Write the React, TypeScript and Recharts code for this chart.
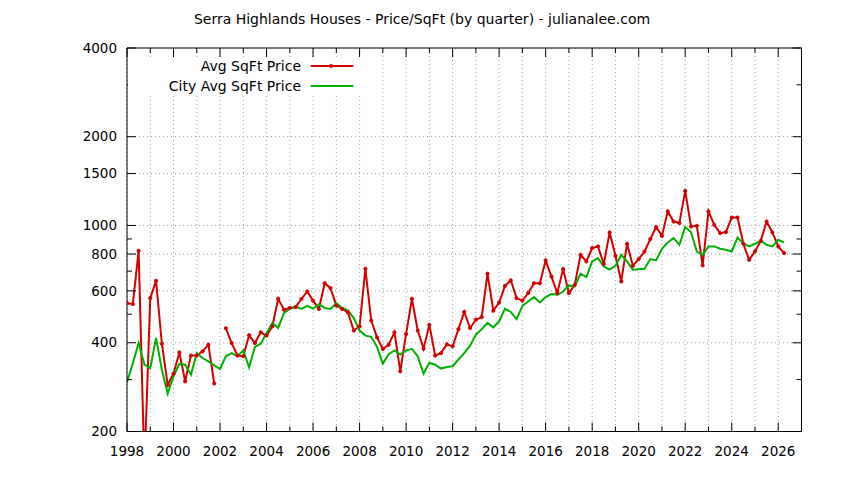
import { CartesianGrid, Legend, Line, LineChart, XAxis, YAxis } from "recharts";

const firstYear = 1998;

// quarterly values, 1998 Q1 .. 2026 Q2
const avgSqftPrice = [
  545, 541, 820, 150,
  567, 649, 397, 288,
  314, 371, 296, 362,
  362, 374, 394, 291,
  null, 448, 399, 362,
  360, 424, 399, 434,
  423, 455, 564, 518,
  525, 529, 563, 597,
  556, 521, 637, 613,
  535, 521, 507, 440,
  455, 713, 476, 417,
  381, 394, 434, 320,
  428, 564, 440, 382,
  460, 362, 369, 395,
  389, 445, 509, 449,
  479, 489, 686, 514,
  548, 624, 651, 567,
  556, 590, 637, 637,
  761, 671, 590, 711,
  590, 629, 795, 755,
  838, 849, 740, 947,
  789, 646, 867, 730,
  769, 816, 899, 988,
  922, 1116, 1031, 1019,
  1310, 992, 997, 732,
  1116, 1005, 942, 950,
  1064, 1064, 867, 765,
  816, 887, 1031, 947,
  849, 806,
];

const citySqftPrice = [
  294, 340, 399, 337,
  328, 415, 324, 269,
  308, 339, 337, 312,
  369, 355, 346, 335,
  326, 360, 369, 360,
  377, 330, 387, 397,
  432, 467, 449, 505,
  521, 531, 521, 534,
  522, 541, 525, 521,
  545, 525, 515, 485,
  440, 423, 419, 387,
  340, 366, 377, 365,
  377, 381, 360, 314,
  342, 337, 327, 331,
  333, 351, 369, 391,
  426, 445, 467, 451,
  473, 522, 509, 481,
  534, 552, 572, 548,
  572, 585, 582, 597,
  626, 621, 686, 668,
  755, 775, 726, 708,
  730, 795, 755, 708,
  711, 713, 769, 761,
  834, 876, 906, 860,
  988, 950, 816, 795,
  849, 849, 834, 827,
  816, 910, 867, 849,
  867, 887, 860, 849,
  894, 876,
];

const yearTicks = [
  1998, 1999, 2000, 2001, 2002, 2003, 2004, 2005, 2006, 2007, 2008, 2009, 2010, 2011, 2012,
  2013, 2014, 2015, 2016, 2017, 2018, 2019, 2020, 2021, 2022, 2023, 2024, 2025, 2026, 2027,
];
const labelledYears = [1998, 2000, 2002, 2004, 2006, 2008, 2010, 2012, 2014, 2016, 2018, 2020, 2022, 2024, 2026];
const priceTicks = [200, 300, 400, 500, 600, 700, 800, 900, 1000, 1500, 2000, 3000, 4000];
const labelledPrices = [200, 400, 600, 800, 1000, 1500, 2000, 4000];

const RED = "#d40000";
const GREEN = "#00b000";
const FONT = "'DejaVu Sans', sans-serif";

const data = avgSqftPrice.map((avg, i) => ({
  t: firstYear + i / 4,
  avg,
  city: citySqftPrice[i],
}));

function BottomTick({ x, y, payload }: any) {
  const major = labelledYears.includes(payload.value);
  return (
    <g>
      <line x1={x} x2={x} y1={y} y2={y - (major ? 9 : 5)} stroke="#000" />
      {major && (
        <text x={x} y={y + 20} dy="0.35em" textAnchor="middle" fontSize={13.5} fontFamily={FONT} fill="#000">
          {payload.value}
        </text>
      )}
    </g>
  );
}

function TopTick({ x, y, payload }: any) {
  const major = labelledYears.includes(payload.value);
  return <line x1={x} x2={x} y1={y} y2={y + (major ? 9 : 5)} stroke="#000" />;
}

function LeftTick({ x, y, payload }: any) {
  const major = labelledPrices.includes(payload.value);
  return (
    <g>
      <line x1={x} x2={x + (major ? 9 : 5)} y1={y} y2={y} stroke="#000" />
      {major && (
        <text x={x - 10} y={y} dy="0.35em" textAnchor="end" fontSize={13.5} fontFamily={FONT} fill="#000">
          {payload.value}
        </text>
      )}
    </g>
  );
}

function RightTick({ x, y, payload }: any) {
  const major = labelledPrices.includes(payload.value);
  return <line x1={x} x2={x - (major ? 9 : 5)} y1={y} y2={y} stroke="#000" />;
}

const legendRows = [
  { label: "Avg SqFt Price", color: RED, marker: true, cy: 66 },
  { label: "City Avg SqFt Price", color: GREEN, marker: false, cy: 86 },
];

function KeyBox() {
  return (
    <div style={{ position: "relative", width: 0, height: 0, fontFamily: FONT, fontSize: 14 }}>
      <div style={{ position: "absolute", left: 128, top: 57, width: 242, height: 38, background: "#fff" }} />
      {legendRows.map((row) => (
        <div key={row.label}>
          <div
            style={{
              position: "absolute",
              left: 61,
              top: row.cy - 10,
              width: 240,
              height: 20,
              lineHeight: "20px",
              textAlign: "right",
              whiteSpace: "nowrap",
              color: "#000",
            }}
          >
            {row.label}
          </div>
          <svg style={{ position: "absolute", left: 310, top: row.cy - 5 }} width={44} height={10}>
            <line x1={0.7} x2={43.3} y1={5} y2={5} stroke={row.color} strokeWidth={2} />
            {row.marker && <circle cx={21} cy={5} r={2} fill={row.color} />}
          </svg>
        </div>
      ))}
    </div>
  );
}

export default function App() {
  return (
    <div style={{ position: "absolute", left: 0, top: 0, width: 844, height: 480, background: "#fff" }}>
      <div
        style={{
          position: "absolute",
          left: 0,
          top: 10,
          width: 844,
          lineHeight: "18px",
          textAlign: "center",
          fontFamily: FONT,
          fontSize: 14,
          color: "#000",
          zIndex: 2,
        }}
      >
        Serra Highlands Houses - Price/SqFt (by quarter) - julianalee.com
      </div>
      <LineChart width={844} height={480} data={data} margin={{ top: 47, right: 41.5, bottom: 0, left: 0 }}>
        <CartesianGrid
          xAxisId="bottom"
          yAxisId="left"
          stroke="#a0a0a0"
          strokeDasharray="1 3"
          verticalValues={yearTicks}
          horizontalValues={labelledPrices}
        />
        <XAxis
          xAxisId="bottom"
          dataKey="t"
          type="number"
          domain={[1998, 2027]}
          allowDataOverflow
          ticks={yearTicks}
          interval={0}
          height={48.5}
          tickSize={0}
          tickMargin={0}
          tickLine={false}
          axisLine={{ stroke: "#000" }}
          tick={<BottomTick />}
        />
        <XAxis
          xAxisId="top"
          orientation="top"
          dataKey="t"
          type="number"
          domain={[1998, 2027]}
          allowDataOverflow
          ticks={yearTicks}
          interval={0}
          height={1}
          tickSize={0}
          tickMargin={0}
          tickLine={false}
          axisLine={{ stroke: "#000" }}
          tick={<TopTick />}
        />
        <YAxis
          yAxisId="left"
          type="number"
          scale="log"
          domain={[200, 4000]}
          allowDataOverflow
          ticks={priceTicks}
          interval={0}
          width={127}
          tickSize={0}
          tickMargin={0}
          tickLine={false}
          axisLine={{ stroke: "#000" }}
          tick={<LeftTick />}
        />
        <YAxis
          yAxisId="right"
          orientation="right"
          type="number"
          scale="log"
          domain={[200, 4000]}
          allowDataOverflow
          ticks={priceTicks}
          interval={0}
          width={1}
          tickSize={0}
          tickMargin={0}
          tickLine={false}
          axisLine={{ stroke: "#000" }}
          tick={<RightTick />}
        />
        <Legend
          verticalAlign="top"
          content={<KeyBox />}
          wrapperStyle={{ left: 0, top: 0, width: 0, height: 0, margin: 0, padding: 0 }}
        />
        <Line
          xAxisId="bottom"
          yAxisId="left"
          type="linear"
          dataKey="avg"
          name="Avg SqFt Price"
          stroke={RED}
          strokeWidth={2}
          dot={{ r: 1.6, fill: RED, stroke: RED, strokeWidth: 1 }}
          connectNulls={false}
          isAnimationActive={false}
        />
        <Line
          xAxisId="bottom"
          yAxisId="left"
          type="linear"
          dataKey="city"
          name="City Avg SqFt Price"
          stroke={GREEN}
          strokeWidth={2}
          dot={false}
          isAnimationActive={false}
        />
      </LineChart>
    </div>
  );
}
